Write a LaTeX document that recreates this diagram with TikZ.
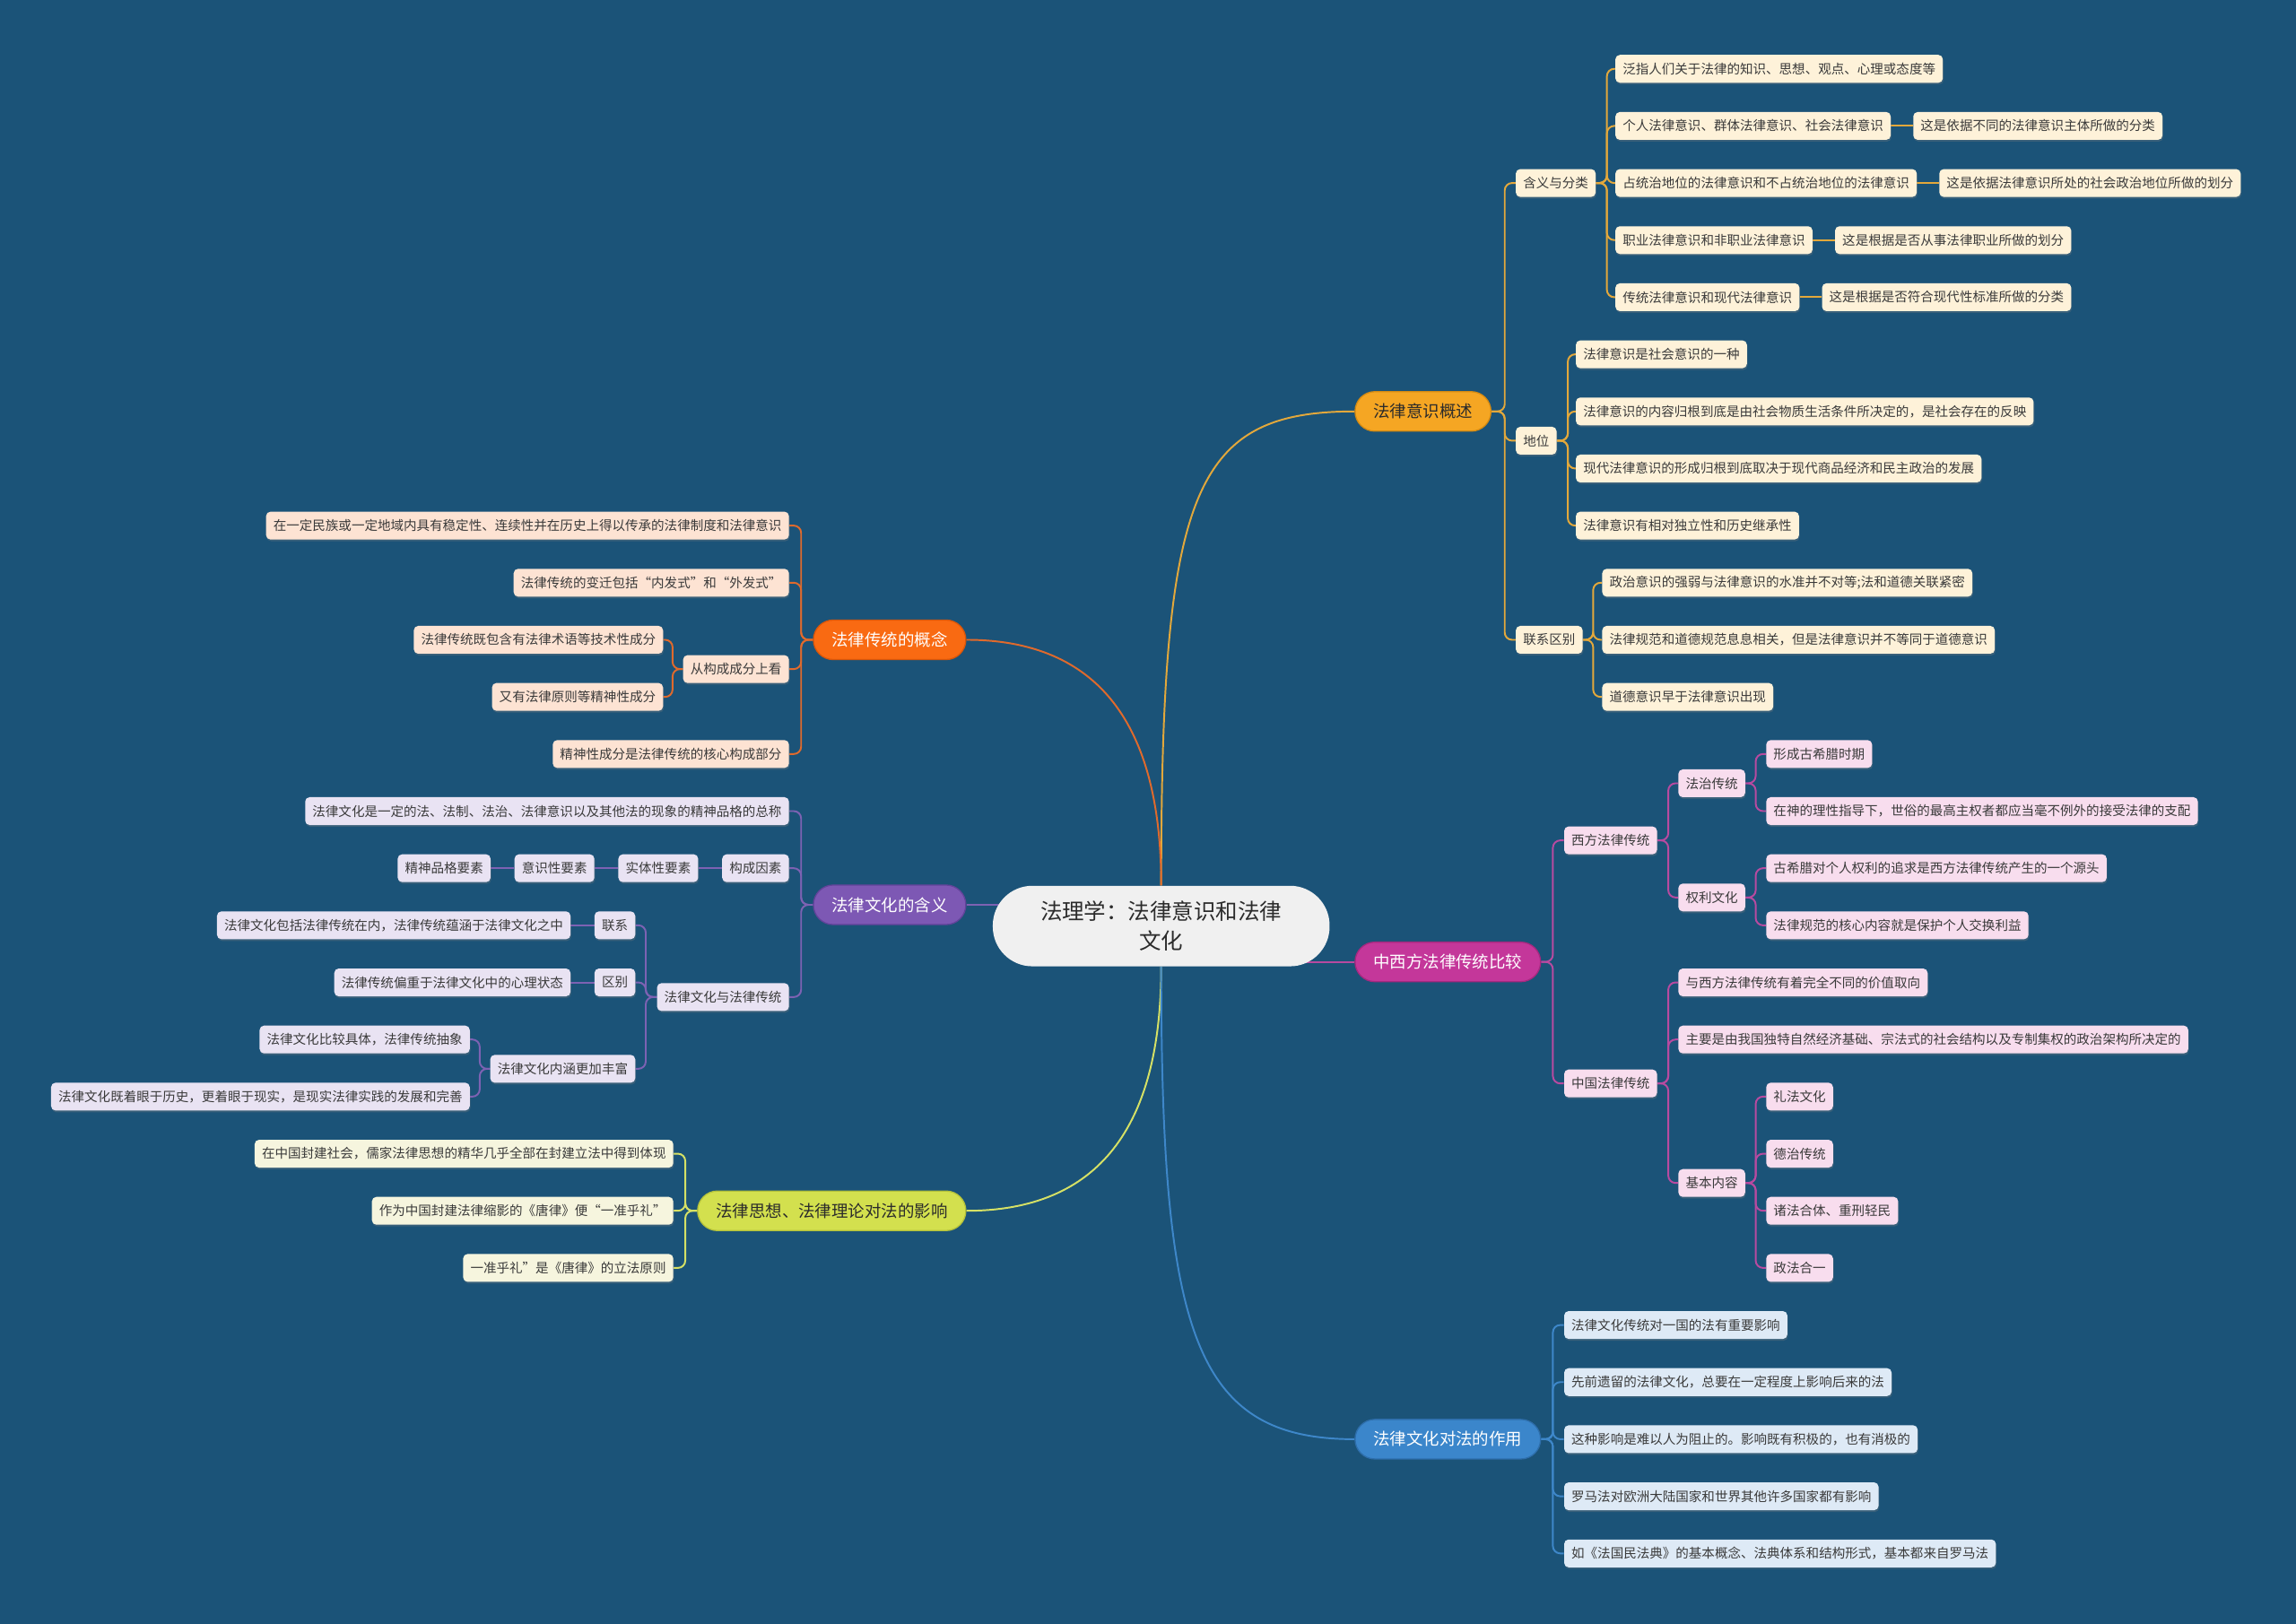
\documentclass[tikz,border=0pt]{standalone}
\usepackage{fontspec}
\setmainfont{Noto Sans CJK SC}
\usetikzlibrary{positioning, backgrounds, shadows}

\definecolor{bgblue}{HTML}{1B5378}
\definecolor{rootfill}{HTML}{F0F0F0}
\definecolor{roottext}{HTML}{2B2B2B}
\definecolor{leaftext}{HTML}{3A3A3A}
\definecolor{yfill}{HTML}{F5A623}
\definecolor{ydraw}{HTML}{D48A12}
\definecolor{ylinecol}{HTML}{E3A83B}
\definecolor{yleaf}{HTML}{FEF2D9}
\definecolor{cfill}{HTML}{F96A12}
\definecolor{cdraw}{HTML}{D9560A}
\definecolor{clinecol}{HTML}{E06A2C}
\definecolor{cleaf}{HTML}{FDE3D3}
\definecolor{pfill}{HTML}{7D58B4}
\definecolor{pdraw}{HTML}{62439A}
\definecolor{plinecol}{HTML}{7D62B3}
\definecolor{pleaf}{HTML}{E9E3F3}
\definecolor{sfill}{HTML}{D3E04E}
\definecolor{sdraw}{HTML}{B5C23A}
\definecolor{slinecol}{HTML}{D6E165}
\definecolor{sleaf}{HTML}{F6F5DE}
\definecolor{zfill}{HTML}{C4379A}
\definecolor{zdraw}{HTML}{A5287F}
\definecolor{zlinecol}{HTML}{B84AA0}
\definecolor{zleaf}{HTML}{F8DDEE}
\definecolor{bfill}{HTML}{3B86CB}
\definecolor{bdraw}{HTML}{2E6EAB}
\definecolor{blinecol}{HTML}{3E87C9}
\definecolor{bleaf}{HTML}{DEEAF6}

\begin{document}
\begin{tikzpicture}[x=1pt, y=-1pt,
  rootbox/.style={fill=rootfill, text=roottext, rounded corners=27pt, minimum width=230pt,
    minimum height=55pt, align=center, font=\fontsize{15}{20}\selectfont},
  main/.style={rounded corners=13.5pt, inner xsep=12.5pt, inner ysep=0pt, minimum height=27pt,
    line width=0.8pt, font=\fontsize{11.3}{13}\selectfont},
  leaf/.style={rounded corners=3pt, inner xsep=5pt, inner ysep=0pt, minimum height=19pt,
    text=leaftext, font=\fontsize{8.9}{10}\selectfont,
    drop shadow={opacity=0.3, shadow xshift=0.5pt, shadow yshift=-1.2pt}},
  ybox/.style={leaf, fill=yleaf}, cbox/.style={leaf, fill=cleaf},
  pbox/.style={leaf, fill=pleaf}, sbox/.style={leaf, fill=sleaf},
  zbox/.style={leaf, fill=zleaf}, bbox/.style={leaf, fill=bleaf},
  edge/.style={line width=1.2pt, rounded corners=5pt},
  yedge/.style={edge, draw=ylinecol}, cedge/.style={edge, draw=clinecol},
  pedge/.style={edge, draw=plinecol}, sedge/.style={edge, draw=slinecol},
  zedge/.style={edge, draw=zlinecol}, bedge/.style={edge, draw=blinecol}]
\useasboundingbox (0,0) rectangle (1568,1109);

% Root
\node[rootbox] (root) at (793,632.5) {法理学：法律意识和法律\\文化};

% Main branches
\node[main, fill=yfill, draw=ydraw, text=roottext, anchor=west] (yishi) at (925,281) {法律意识概述};
\node[main, fill=zfill, draw=zdraw, text=white, anchor=west] (zhongxi) at (925,657) {中西方法律传统比较};
\node[main, fill=bfill, draw=bdraw, text=white, anchor=west] (zuoyong) at (925,983) {法律文化对法的作用};
\node[main, fill=cfill, draw=cdraw, text=white, anchor=east] (chuantong) at (660,437) {法律传统的概念};
\node[main, fill=pfill, draw=pdraw, text=white, anchor=east] (wenhua) at (660,618) {法律文化的含义};
\node[main, fill=sfill, draw=sdraw, text=roottext, anchor=east] (sixiang) at (660,827) {法律思想、法律理论对法的影响};

% 法律意识概述
\node[ybox, anchor=west] (yhy) at (1035,125) {含义与分类};
\node[ybox, anchor=west] (yhy1) at (1103,47) {泛指人们关于法律的知识、思想、观点、心理或态度等};
\node[ybox, anchor=west] (yhy2) at (1103,86) {个人法律意识、群体法律意识、社会法律意识};
\node[ybox, right=15pt of yhy2] (yhyn2) {这是依据不同的法律意识主体所做的分类};
\node[ybox, anchor=west] (yhy3) at (1103,125) {占统治地位的法律意识和不占统治地位的法律意识};
\node[ybox, right=15pt of yhy3] (yhyn3) {这是依据法律意识所处的社会政治地位所做的划分};
\node[ybox, anchor=west] (yhy4) at (1103,164) {职业法律意识和非职业法律意识};
\node[ybox, right=15pt of yhy4] (yhyn4) {这是根据是否从事法律职业所做的划分};
\node[ybox, anchor=west] (yhy5) at (1103,203) {传统法律意识和现代法律意识};
\node[ybox, right=15pt of yhy5] (yhyn5) {这是根据是否符合现代性标准所做的分类};
\node[ybox, anchor=west] (ydw) at (1035,301) {地位};
\node[ybox, anchor=west] (ydw1) at (1076,242) {法律意识是社会意识的一种};
\node[ybox, anchor=west] (ydw2) at (1076,281) {法律意识的内容归根到底是由社会物质生活条件所决定的，是社会存在的反映};
\node[ybox, anchor=west] (ydw3) at (1076,320) {现代法律意识的形成归根到底取决于现代商品经济和民主政治的发展};
\node[ybox, anchor=west] (ydw4) at (1076,359) {法律意识有相对独立性和历史继承性};
\node[ybox, anchor=west] (ylx) at (1035,437) {联系区别};
\node[ybox, anchor=west] (ylx1) at (1094,398) {政治意识的强弱与法律意识的水准并不对等;法和道德关联紧密};
\node[ybox, anchor=west] (ylx2) at (1094,437) {法律规范和道德规范息息相关，但是法律意识并不等同于道德意识};
\node[ybox, anchor=west] (ylx3) at (1094,476) {道德意识早于法律意识出现};

% 中西方法律传统比较
\node[zbox, anchor=west] (zxf) at (1068,574) {西方法律传统};
\node[zbox, anchor=west] (zfz) at (1146,535) {法治传统};
\node[zbox, anchor=west] (zfz1) at (1206,515) {形成古希腊时期};
\node[zbox, anchor=west] (zfz2) at (1206,554) {在神的理性指导下，世俗的最高主权者都应当毫不例外的接受法律的支配};
\node[zbox, anchor=west] (zql) at (1146,613) {权利文化};
\node[zbox, anchor=west] (zql1) at (1206,593) {古希腊对个人权利的追求是西方法律传统产生的一个源头};
\node[zbox, anchor=west] (zql2) at (1206,632) {法律规范的核心内容就是保护个人交换利益};
\node[zbox, anchor=west] (zzg) at (1068,740) {中国法律传统};
\node[zbox, anchor=west] (zzg1) at (1146,671) {与西方法律传统有着完全不同的价值取向};
\node[zbox, anchor=west] (zzg2) at (1146,710) {主要是由我国独特自然经济基础、宗法式的社会结构以及专制集权的政治架构所决定的};
\node[zbox, anchor=west] (zjb) at (1146,808) {基本内容};
\node[zbox, anchor=west] (zjb1) at (1206,749) {礼法文化};
\node[zbox, anchor=west] (zjb2) at (1206,788) {德治传统};
\node[zbox, anchor=west] (zjb3) at (1206,827) {诸法合体、重刑轻民};
\node[zbox, anchor=west] (zjb4) at (1206,866) {政法合一};

% 法律文化对法的作用
\node[bbox, anchor=west] (zy1) at (1068,905) {法律文化传统对一国的法有重要影响};
\node[bbox, anchor=west] (zy2) at (1068,944) {先前遗留的法律文化，总要在一定程度上影响后来的法};
\node[bbox, anchor=west] (zy3) at (1068,983) {这种影响是难以人为阻止的。影响既有积极的，也有消极的};
\node[bbox, anchor=west] (zy4) at (1068,1022) {罗马法对欧洲大陆国家和世界其他许多国家都有影响};
\node[bbox, anchor=west] (zy5) at (1068,1061) {如《法国民法典》的基本概念、法典体系和结构形式，基本都来自罗马法};

% 法律传统的概念
\node[cbox, anchor=east] (ct1) at (539,359) {在一定民族或一定地域内具有稳定性、连续性并在历史上得以传承的法律制度和法律意识};
\node[cbox, anchor=east] (ct2) at (539,398) {法律传统的变迁包括“内发式”和“外发式”};
\node[cbox, anchor=east] (ct3) at (539,457) {从构成成分上看};
\node[cbox, anchor=east] (ct4) at (539,515) {精神性成分是法律传统的核心构成部分};
\node[cbox, anchor=east] (ctgc1) at (453,437) {法律传统既包含有法律术语等技术性成分};
\node[cbox, anchor=east] (ctgc2) at (453,476) {又有法律原则等精神性成分};

% 法律文化的含义
\node[pbox, anchor=east] (wh1) at (539,554) {法律文化是一定的法、法制、法治、法律意识以及其他法的现象的精神品格的总称};
\node[pbox, anchor=east] (whgc) at (539,593) {构成因素};
\node[pbox, left=16pt of whgc] (whgc1) {实体性要素};
\node[pbox, left=16pt of whgc1] (whgc2) {意识性要素};
\node[pbox, left=16pt of whgc2] (whgc3) {精神品格要素};
\node[pbox, anchor=east] (whyc) at (539,681) {法律文化与法律传统};
\node[pbox, anchor=east] (whlx) at (434,632) {联系};
\node[pbox, left=16pt of whlx] (whlx1) {法律文化包括法律传统在内，法律传统蕴涵于法律文化之中};
\node[pbox, anchor=east] (whqb) at (434,671) {区别};
\node[pbox, left=16pt of whqb] (whqb1) {法律传统偏重于法律文化中的心理状态};
\node[pbox, anchor=east] (whnh) at (434,730) {法律文化内涵更加丰富};
\node[pbox, anchor=east] (whnh1) at (321,710) {法律文化比较具体，法律传统抽象};
\node[pbox, anchor=east] (whnh2) at (321,749) {法律文化既着眼于历史，更着眼于现实，是现实法律实践的发展和完善};

% 法律思想、法律理论对法的影响
\node[sbox, anchor=east] (sx1) at (460,788) {在中国封建社会，儒家法律思想的精华几乎全部在封建立法中得到体现};
\node[sbox, anchor=east] (sx2) at (460,827) {作为中国封建法律缩影的《唐律》便“一准乎礼”};
\node[sbox, anchor=east] (sx3) at (460,866) {一准乎礼”是《唐律》的立法原则};

% Connectors, behind the nodes
\begin{pgfonlayer}{background}
\fill[bgblue] (0,0) rectangle (1568,1109);
% root to branches
\draw[yedge] (root.north) .. controls +(0,-270) and +(-110,0) .. (yishi.west);
\draw[cedge] (root.north) .. controls +(0,-110) and +(90,0) .. (chuantong.east);
\draw[pedge] (wenhua.east) -- (wenhua.east -| root.center);
\draw[zedge] (zhongxi.west) -- (zhongxi.west -| root.center);
\draw[sedge] (root.south) .. controls +(0,110) and +(90,0) .. (sixiang.east);
\draw[bedge] (root.south) .. controls +(0,250) and +(-110,0) .. (zuoyong.west);
% right side
\foreach \c in {yhy,ydw,ylx} \draw[yedge] (yishi.east) -- ++(9,0) |- (\c.west);
\foreach \i in {1,...,5} \draw[yedge] (yhy.east) -- ++(7.5,0) |- (yhy\i.west);
\foreach \i in {2,...,5} \draw[yedge] (yhy\i.east) -- (yhyn\i.west);
\foreach \i in {1,...,4} \draw[yedge] (ydw.east) -- ++(7.5,0) |- (ydw\i.west);
\foreach \i in {1,...,3} \draw[yedge] (ylx.east) -- ++(7,0) |- (ylx\i.west);
\foreach \c in {zxf,zzg} \draw[zedge] (zhongxi.east) -- ++(8,0) |- (\c.west);
\foreach \c in {zfz,zql} \draw[zedge] (zxf.east) -- ++(7.5,0) |- (\c.west);
\foreach \c in {zzg1,zzg2,zjb} \draw[zedge] (zzg.east) -- ++(7.5,0) |- (\c.west);
\foreach \i in {1,2} \draw[zedge] (zfz.east) -- ++(7,0) |- (zfz\i.west);
\foreach \i in {1,2} \draw[zedge] (zql.east) -- ++(7,0) |- (zql\i.west);
\foreach \i in {1,...,4} \draw[zedge] (zjb.east) -- ++(7,0) |- (zjb\i.west);
\foreach \i in {1,...,5} \draw[bedge] (zuoyong.east) -- ++(8,0) |- (zy\i.west);
% left side
\foreach \i in {1,...,4} \draw[cedge] (chuantong.west) -- ++(-8,0) |- (ct\i.east);
\foreach \i in {1,2} \draw[cedge] (ct3.west) -- ++(-7,0) |- (ctgc\i.east);
\foreach \c in {wh1,whgc,whyc} \draw[pedge] (wenhua.west) -- ++(-8,0) |- (\c.east);
\draw[pedge] (whgc.west) -- (whgc1.east);
\draw[pedge] (whgc1.west) -- (whgc2.east);
\draw[pedge] (whgc2.west) -- (whgc3.east);
\foreach \c in {whlx,whqb,whnh} \draw[pedge] (whyc.west) -- ++(-7.5,0) |- (\c.east);
\draw[pedge] (whlx.west) -- (whlx1.east);
\draw[pedge] (whqb.west) -- (whqb1.east);
\foreach \i in {1,2} \draw[pedge] (whnh.west) -- ++(-7,0) |- (whnh\i.east);
\foreach \i in {1,...,3} \draw[sedge] (sixiang.west) -- ++(-8,0) |- (sx\i.east);
\end{pgfonlayer}
\end{tikzpicture}
\end{document}
